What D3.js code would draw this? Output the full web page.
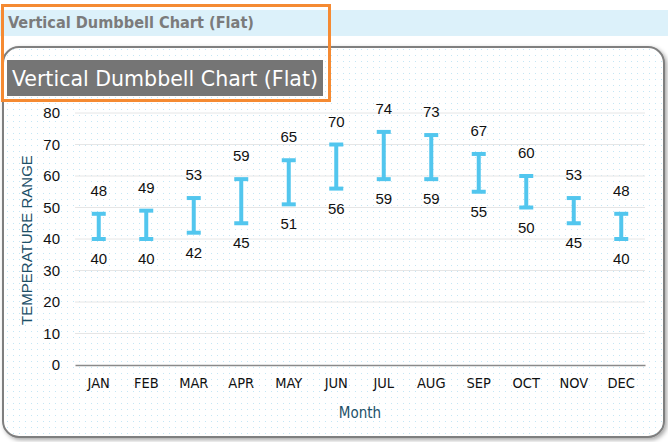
<!DOCTYPE html>
<html><head><meta charset="utf-8">
<script src="https://cdn.jsdelivr.net/npm/d3@7"></script>
<style>body{margin:0;background:#fff}svg{display:block}</style>
</head><body>
<svg id="c" width="668" height="442"></svg>
<script>
const months = ["JAN","FEB","MAR","APR","MAY","JUN","JUL","AUG","SEP","OCT","NOV","DEC"];
const lowValues = [40,40,42,45,51,56,59,59,55,50,45,40];
const highValues = [48,49,53,59,65,70,74,73,67,60,53,48];
const yTicks = [0,10,20,30,40,50,60,70,80];
const titleText = "Vertical Dumbbell Chart (Flat)";

const svg = d3.select("#c");
const defs = svg.append("defs");
const pat = defs.append("pattern").attr("id","dots").attr("width",6).attr("height",6).attr("patternUnits","userSpaceOnUse");
pat.append("rect").attr("x",1).attr("y",1).attr("width",1).attr("height",1).attr("fill","#c4e6f5");
const f = defs.append("filter").attr("id","sh").attr("x","-5%").attr("y","-5%").attr("width","110%").attr("height","110%");
f.append("feDropShadow").attr("dx",2).attr("dy",2).attr("stdDeviation",2).attr("flood-color","#000").attr("flood-opacity",0.35);

// header band
svg.append("rect").attr("x",0).attr("y",10).attr("width",668).attr("height",26).attr("fill","#dcf1fa");
svg.append("text").attr("x",8).attr("y",28).attr("font-family","DejaVu Sans Condensed, DejaVu Sans").attr("font-stretch","condensed")
  .attr("font-weight","bold").attr("font-size",15).attr("fill","#7b7b7b").attr("textLength",246).attr("lengthAdjust","spacingAndGlyphs").text(titleText);

// card
svg.append("rect").attr("x",3).attr("y",47).attr("width",661).attr("height",390).attr("rx",16)
  .attr("fill","#fff").attr("stroke","#7f7f7f").attr("stroke-width",2).attr("filter","url(#sh)");
svg.append("rect").attr("x",4).attr("y",48).attr("width",659).attr("height",388).attr("rx",15).attr("fill","url(#dots)");

// title box
svg.append("rect").attr("x",7).attr("y",60).attr("width",316).attr("height",36).attr("fill","#757575");
svg.append("text").attr("x",12).attr("y",86).attr("font-family","DejaVu Sans Condensed, DejaVu Sans").attr("font-stretch","condensed")
  .attr("font-size",21).attr("fill","#fff").attr("textLength",306).attr("lengthAdjust","spacingAndGlyphs").text(titleText);

// orange highlight
svg.append("rect").attr("x",2.5).attr("y",5.5).attr("width",327).attr("height",95).attr("fill","none").attr("stroke","#f58a32").attr("stroke-width",3);

const x = d3.scaleBand().domain(months).range([75,645]);
const y = d3.scaleLinear().domain([0,80]).range([365,113]);

// gridlines
svg.append("g").selectAll("line").data(yTicks.filter(d=>d>0)).join("line")
  .attr("x1",75).attr("x2",645).attr("y1",d=>y(d)).attr("y2",d=>y(d)).attr("stroke","#e6e6e6").attr("stroke-width",1);

// y axis
const ya = svg.append("g").attr("transform","translate(75,0)").call(d3.axisLeft(y).tickValues(yTicks).tickSize(0).tickPadding(15));
ya.select(".domain").remove();
ya.selectAll("text").attr("font-family","Liberation Sans, Arial").attr("font-size",15).attr("fill","#111");

// x axis
const xa = svg.append("g").attr("transform","translate(0,365)").call(d3.axisBottom(x).tickSize(0).tickPadding(13));
xa.select(".domain").attr("stroke","#8a8a8a").attr("stroke-width",1.5);
xa.selectAll("text").attr("font-family","DejaVu Sans Condensed, DejaVu Sans").attr("font-stretch","condensed").attr("font-size",14.5).attr("fill","#111");

// axis titles
svg.append("text").attr("x",360).attr("y",418).attr("text-anchor","middle").attr("font-family","DejaVu Sans Condensed, DejaVu Sans")
  .attr("font-stretch","condensed").attr("font-size",15).attr("fill","#1d5068").text("Month");
svg.append("text").attr("transform","translate(32,240) rotate(-90)").attr("text-anchor","middle").attr("font-family","Liberation Sans, Arial")
  .attr("font-size",15).attr("fill","#1d5068").text("TEMPERATURE RANGE");

// dumbbells
const data = months.map((m,i)=>({m, lo:lowValues[i], hi:highValues[i]}));
const g = svg.append("g");
const col = "#52c6ee";
const cx = d => x(d.m) + x.bandwidth()/2;
g.selectAll(".stem").data(data).join("line").attr("x1",cx).attr("x2",cx)
  .attr("y1",d=>y(d.lo)).attr("y2",d=>y(d.hi)).attr("stroke",col).attr("stroke-width",4);
g.selectAll(".capT").data(data).join("line").attr("x1",d=>cx(d)-7).attr("x2",d=>cx(d)+7)
  .attr("y1",d=>y(d.hi)).attr("y2",d=>y(d.hi)).attr("stroke",col).attr("stroke-width",4);
g.selectAll(".capB").data(data).join("line").attr("x1",d=>cx(d)-7).attr("x2",d=>cx(d)+7)
  .attr("y1",d=>y(d.lo)).attr("y2",d=>y(d.lo)).attr("stroke",col).attr("stroke-width",4);
g.selectAll(".lblT").data(data).join("text").attr("x",cx).attr("y",d=>y(d.hi)-18).attr("text-anchor","middle")
  .attr("font-family","Liberation Sans, Arial").attr("font-size",15).attr("fill","#111").text(d=>d.hi);
g.selectAll(".lblB").data(data).join("text").attr("x",cx).attr("y",d=>y(d.lo)+25).attr("text-anchor","middle")
  .attr("font-family","Liberation Sans, Arial").attr("font-size",15).attr("fill","#111").text(d=>d.lo);
</script>
</body></html>
